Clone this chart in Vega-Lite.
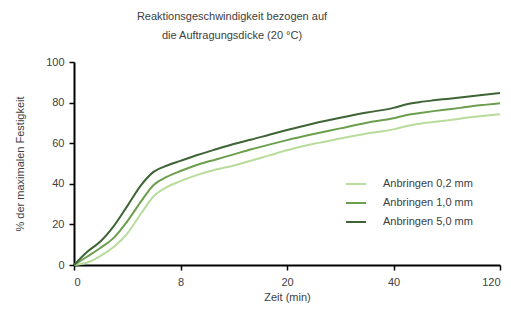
{
  "$schema": "https://vega.github.io/schema/vega-lite/v6.json",
  "width": 426,
  "height": 203,
  "autosize": {"type": "none"},
  "padding": {"left": 74, "top": 62, "right": 11, "bottom": 46},
  "background": "white",
  "config": {"view": {"stroke": null}, "font": "Liberation Sans"},
  "title": {
    "text": ["Reaktionsgeschwindigkeit bezogen auf", "die Auftragungsdicke (20 °C)"],
    "fontSize": 11,
    "fontWeight": "normal",
    "color": "#404040",
    "anchor": "middle",
    "dx": -55,
    "offset": 15,
    "lineHeight": 19,
    "font": "Liberation Sans"
  },
  "datasets": {
    "curves": [
      {"t": 0, "v": 0, "s": "Anbringen 0,2 mm"},
      {"t": 1, "v": 1.2, "s": "Anbringen 0,2 mm"},
      {"t": 2, "v": 4.5, "s": "Anbringen 0,2 mm"},
      {"t": 3, "v": 9, "s": "Anbringen 0,2 mm"},
      {"t": 4, "v": 15.5, "s": "Anbringen 0,2 mm"},
      {"t": 5, "v": 25, "s": "Anbringen 0,2 mm"},
      {"t": 6, "v": 34, "s": "Anbringen 0,2 mm"},
      {"t": 7, "v": 38.5, "s": "Anbringen 0,2 mm"},
      {"t": 8, "v": 41.3, "s": "Anbringen 0,2 mm"},
      {"t": 10, "v": 44.5, "s": "Anbringen 0,2 mm"},
      {"t": 12, "v": 47, "s": "Anbringen 0,2 mm"},
      {"t": 14, "v": 49, "s": "Anbringen 0,2 mm"},
      {"t": 16, "v": 51.5, "s": "Anbringen 0,2 mm"},
      {"t": 18, "v": 54, "s": "Anbringen 0,2 mm"},
      {"t": 20, "v": 56.5, "s": "Anbringen 0,2 mm"},
      {"t": 25, "v": 59.7, "s": "Anbringen 0,2 mm"},
      {"t": 30, "v": 62.3, "s": "Anbringen 0,2 mm"},
      {"t": 35, "v": 64.8, "s": "Anbringen 0,2 mm"},
      {"t": 40, "v": 66.8, "s": "Anbringen 0,2 mm"},
      {"t": 50, "v": 68.5, "s": "Anbringen 0,2 mm"},
      {"t": 60, "v": 69.6, "s": "Anbringen 0,2 mm"},
      {"t": 70, "v": 70.4, "s": "Anbringen 0,2 mm"},
      {"t": 80, "v": 71.2, "s": "Anbringen 0,2 mm"},
      {"t": 90, "v": 72.1, "s": "Anbringen 0,2 mm"},
      {"t": 100, "v": 73, "s": "Anbringen 0,2 mm"},
      {"t": 110, "v": 73.7, "s": "Anbringen 0,2 mm"},
      {"t": 120, "v": 74.3, "s": "Anbringen 0,2 mm"},
      {"t": 0, "v": 0, "s": "Anbringen 1,0 mm"},
      {"t": 1, "v": 4.2, "s": "Anbringen 1,0 mm"},
      {"t": 2, "v": 8.5, "s": "Anbringen 1,0 mm"},
      {"t": 3, "v": 13.5, "s": "Anbringen 1,0 mm"},
      {"t": 4, "v": 21.5, "s": "Anbringen 1,0 mm"},
      {"t": 5, "v": 31, "s": "Anbringen 1,0 mm"},
      {"t": 6, "v": 39.5, "s": "Anbringen 1,0 mm"},
      {"t": 7, "v": 43.5, "s": "Anbringen 1,0 mm"},
      {"t": 8, "v": 46.3, "s": "Anbringen 1,0 mm"},
      {"t": 10, "v": 49.5, "s": "Anbringen 1,0 mm"},
      {"t": 12, "v": 52, "s": "Anbringen 1,0 mm"},
      {"t": 14, "v": 54.5, "s": "Anbringen 1,0 mm"},
      {"t": 16, "v": 57, "s": "Anbringen 1,0 mm"},
      {"t": 18, "v": 59.3, "s": "Anbringen 1,0 mm"},
      {"t": 20, "v": 61.5, "s": "Anbringen 1,0 mm"},
      {"t": 25, "v": 64.5, "s": "Anbringen 1,0 mm"},
      {"t": 30, "v": 67.3, "s": "Anbringen 1,0 mm"},
      {"t": 35, "v": 70.1, "s": "Anbringen 1,0 mm"},
      {"t": 40, "v": 72.3, "s": "Anbringen 1,0 mm"},
      {"t": 50, "v": 73.9, "s": "Anbringen 1,0 mm"},
      {"t": 60, "v": 74.9, "s": "Anbringen 1,0 mm"},
      {"t": 70, "v": 75.8, "s": "Anbringen 1,0 mm"},
      {"t": 80, "v": 76.6, "s": "Anbringen 1,0 mm"},
      {"t": 90, "v": 77.4, "s": "Anbringen 1,0 mm"},
      {"t": 100, "v": 78.3, "s": "Anbringen 1,0 mm"},
      {"t": 110, "v": 79, "s": "Anbringen 1,0 mm"},
      {"t": 120, "v": 79.7, "s": "Anbringen 1,0 mm"},
      {"t": 0, "v": 0, "s": "Anbringen 5,0 mm"},
      {"t": 1, "v": 6.5, "s": "Anbringen 5,0 mm"},
      {"t": 2, "v": 11.7, "s": "Anbringen 5,0 mm"},
      {"t": 3, "v": 19.3, "s": "Anbringen 5,0 mm"},
      {"t": 4, "v": 29, "s": "Anbringen 5,0 mm"},
      {"t": 5, "v": 39, "s": "Anbringen 5,0 mm"},
      {"t": 6, "v": 46, "s": "Anbringen 5,0 mm"},
      {"t": 7, "v": 49, "s": "Anbringen 5,0 mm"},
      {"t": 8, "v": 51.3, "s": "Anbringen 5,0 mm"},
      {"t": 10, "v": 54.3, "s": "Anbringen 5,0 mm"},
      {"t": 12, "v": 57, "s": "Anbringen 5,0 mm"},
      {"t": 14, "v": 59.6, "s": "Anbringen 5,0 mm"},
      {"t": 16, "v": 61.8, "s": "Anbringen 5,0 mm"},
      {"t": 18, "v": 64.2, "s": "Anbringen 5,0 mm"},
      {"t": 20, "v": 66.5, "s": "Anbringen 5,0 mm"},
      {"t": 25, "v": 69.7, "s": "Anbringen 5,0 mm"},
      {"t": 30, "v": 72.5, "s": "Anbringen 5,0 mm"},
      {"t": 35, "v": 75.1, "s": "Anbringen 5,0 mm"},
      {"t": 40, "v": 77.4, "s": "Anbringen 5,0 mm"},
      {"t": 50, "v": 79.2, "s": "Anbringen 5,0 mm"},
      {"t": 60, "v": 80.3, "s": "Anbringen 5,0 mm"},
      {"t": 70, "v": 81.1, "s": "Anbringen 5,0 mm"},
      {"t": 80, "v": 81.8, "s": "Anbringen 5,0 mm"},
      {"t": 90, "v": 82.5, "s": "Anbringen 5,0 mm"},
      {"t": 100, "v": 83.3, "s": "Anbringen 5,0 mm"},
      {"t": 110, "v": 84, "s": "Anbringen 5,0 mm"},
      {"t": 120, "v": 84.7, "s": "Anbringen 5,0 mm"}
    ]
  },
  "data": {"name": "curves"},
  "mark": {"type": "line", "interpolate": "monotone", "strokeWidth": 2},
  "encoding": {
    "x": {
      "field": "t",
      "type": "quantitative",
      "scale": {"domain": [0, 8, 20, 40, 120], "range": [0, 106.5, 213, 319.5, 426]},
      "axis": {
        "values": [0, 8, 20, 40, 120],
        "title": "Zeit (min)",
        "titleFont": "Liberation Sans",
        "titleFontSize": 11,
        "titleFontWeight": "normal",
        "titleColor": "#404040",
        "titlePadding": 4,
        "labelFont": "Liberation Sans",
        "labelFontSize": 11,
        "labelColor": "#404040",
        "labelPadding": 6,
        "domainColor": "black",
        "domainWidth": 2,
        "tickColor": "black",
        "tickWidth": 1.5,
        "tickSize": 5,
        "grid": false
      }
    },
    "y": {
      "field": "v",
      "type": "quantitative",
      "scale": {"domain": [0, 100], "nice": false},
      "axis": {
        "values": [0, 20, 40, 60, 80, 100],
        "title": "% der maximalen Festigkeit",
        "titleFont": "Liberation Sans",
        "titleFontSize": 11,
        "titleFontWeight": "normal",
        "titleColor": "#404040",
        "titlePadding": 20,
        "labelFont": "Liberation Sans",
        "labelFontSize": 11,
        "labelColor": "#404040",
        "labelPadding": 5,
        "domainColor": "black",
        "domainWidth": 2,
        "tickColor": "black",
        "tickWidth": 1.5,
        "tickSize": 5,
        "grid": false
      }
    },
    "color": {
      "field": "s",
      "type": "nominal",
      "scale": {
        "domain": ["Anbringen 0,2 mm", "Anbringen 1,0 mm", "Anbringen 5,0 mm"],
        "range": ["#b8dc9c", "#6b9f4e", "#3e6436"]
      },
      "legend": {
        "title": null,
        "orient": "none",
        "legendX": 271,
        "legendY": 111,
        "symbolType": "stroke",
        "symbolStrokeWidth": 2,
        "symbolSize": 400,
        "labelFont": "Liberation Sans",
        "labelFontSize": 11,
        "labelColor": "#404040",
        "rowPadding": 3,
        "labelOffset": 16
      }
    }
  }
}
